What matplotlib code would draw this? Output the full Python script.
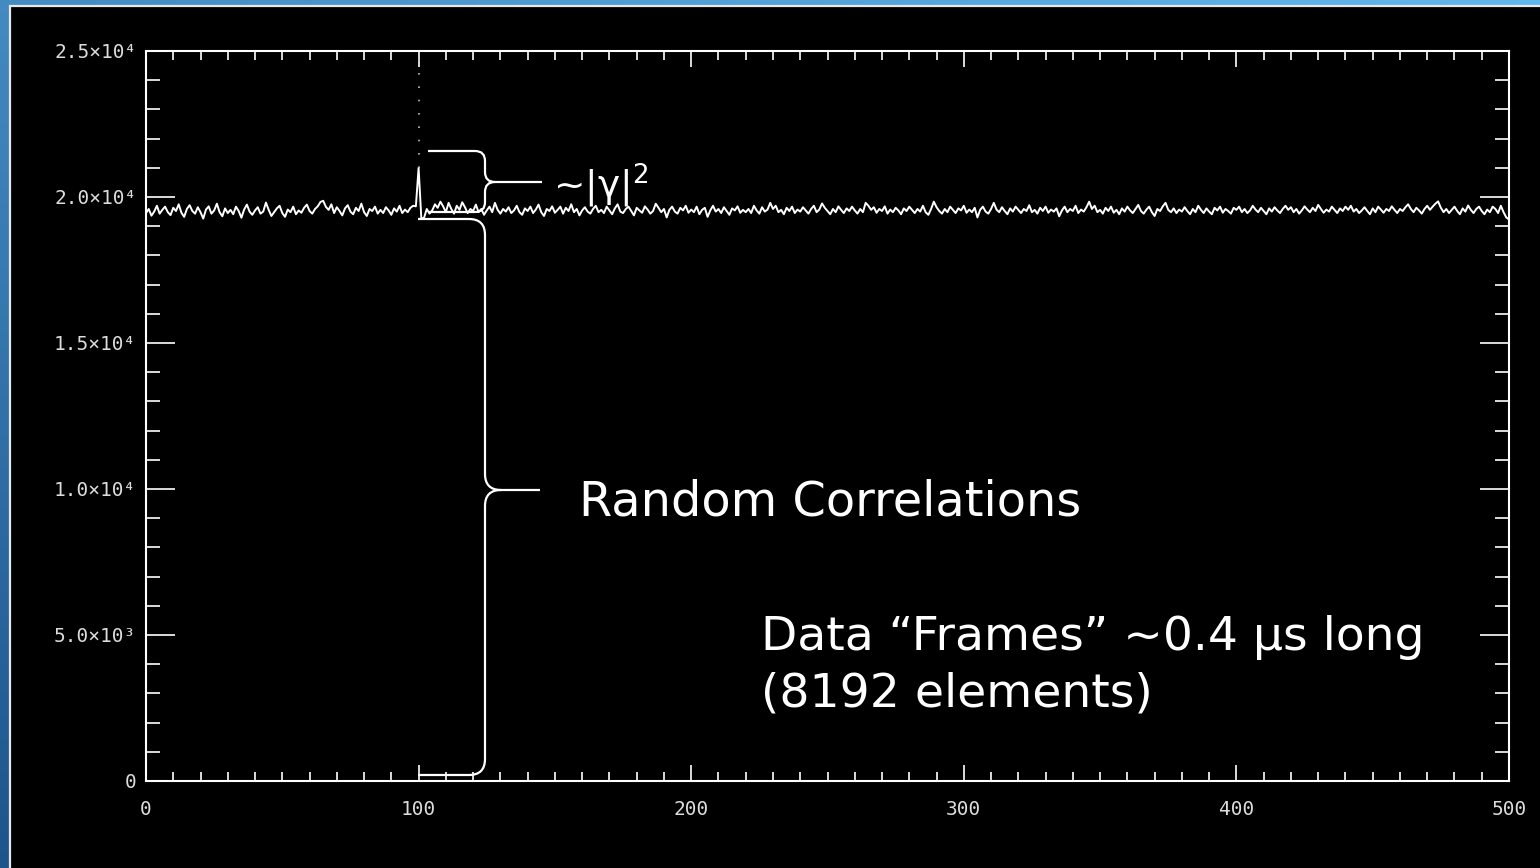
import numpy as np
import matplotlib
matplotlib.use("Agg")
import matplotlib.pyplot as plt
from matplotlib.path import Path
from matplotlib.patches import PathPatch, Rectangle

# ---------------- data ----------------
corr = [
    19450, 19590, 19360, 19500, 19700, 19430, 19560, 19670, 19480, 19380, 19630, 19520, 19750, 19460, 19320, 19590, 19720, 19520, 19430, 19650,
    19480, 19260, 19570, 19680, 19430, 19540, 19770, 19480, 19340, 19610, 19450, 19560, 19410, 19670, 19520, 19290, 19570, 19740, 19500, 19390,
    19540, 19650, 19430, 19500, 19810, 19560, 19350, 19480, 19610, 19700, 19450, 19320, 19570, 19480, 19670, 19410, 19540, 19460, 19630, 19740,
    19520, 19430, 19590, 19680, 19830, 19870, 19660, 19560, 19750, 19450, 19650, 19520, 19370, 19610, 19720, 19500, 19410, 19630, 19520, 19770,
    19480, 19350, 19590, 19520, 19670, 19430, 19560, 19450, 19650, 19540, 19390, 19610, 19500, 19700, 19450, 19570, 19480, 19630, 19700, 19680,
    21000,
    19260, 19290, 19590, 19430, 19540, 19750, 19630, 19840, 19680, 19480, 19800, 19590, 19430, 19700, 19560, 19820, 19650, 19450, 19590, 19520,
    19740, 19480, 19590, 19390, 19540, 19670, 19480, 19800, 19560, 19430, 19590, 19500, 19650, 19450, 19540, 19700, 19480, 19390, 19610, 19520,
    19670, 19450, 19570, 19740, 19480, 19350, 19590, 19520, 19680, 19460, 19560, 19670, 19430, 19630, 19520, 19750, 19480, 19590, 19370, 19540,
    19650, 19500, 19430, 19590, 19700, 19480, 19560, 19450, 19670, 19540, 19410, 19610, 19750, 19500, 19450, 19590, 19670, 19520, 19370, 19630,
    19540, 19460, 19680, 19570, 19430, 19520, 19770, 19630, 19480, 19590, 19300, 19560, 19670, 19500, 19430, 19630, 19540, 19700, 19460, 19570,
    19480, 19670, 19410, 19560, 19630, 19320, 19540, 19700, 19500, 19590, 19450, 19650, 19520, 19390, 19610, 19540, 19680, 19460, 19560, 19480,
    19590, 19450, 19700, 19540, 19430, 19650, 19500, 19570, 19800, 19590, 19700, 19480, 19560, 19410, 19630, 19520, 19670, 19450, 19570, 19500,
    19650, 19540, 19430, 19590, 19700, 19480, 19570, 19780, 19630, 19520, 19410, 19590, 19480, 19680, 19560, 19450, 19610, 19520, 19670, 19540,
    19430, 19590, 19480, 19800, 19700, 19560, 19650, 19460, 19590, 19520, 19680, 19430, 19570, 19480, 19630, 19540, 19410, 19610, 19520, 19670,
    19560, 19450, 19590, 19500, 19700, 19480, 19390, 19590, 19840, 19650, 19520, 19430, 19590, 19480, 19670, 19560, 19450, 19610, 19540, 19700,
    19460, 19570, 19480, 19630, 19300, 19560, 19670, 19500, 19430, 19590, 19800, 19570, 19480, 19650, 19520, 19410, 19610, 19500, 19670, 19560,
    19450, 19590, 19520, 19720, 19480, 19560, 19430, 19630, 19520, 19670, 19460, 19570, 19500, 19610, 19340, 19540, 19670, 19480, 19590, 19520,
    19700, 19450, 19570, 19500, 19650, 19840, 19590, 19700, 19480, 19560, 19430, 19630, 19520, 19670, 19460, 19560, 19410, 19610, 19500, 19670,
    19540, 19450, 19590, 19730, 19520, 19430, 19570, 19670, 19480, 19350, 19590, 19520, 19680, 19800, 19560, 19480, 19610, 19450, 19570, 19500,
    19650, 19520, 19410, 19590, 19480, 19700, 19560, 19450, 19610, 19500, 19410, 19630, 19540, 19670, 19460, 19590, 19520, 19430, 19630, 19560,
    19670, 19480, 19590, 19450, 19540, 19700, 19570, 19480, 19630, 19520, 19410, 19610, 19500, 19650, 19540, 19450, 19590, 19700, 19560, 19650,
    19480, 19590, 19430, 19540, 19680, 19570, 19480, 19630, 19520, 19730, 19590, 19460, 19570, 19500, 19670, 19560, 19450, 19610, 19520, 19670,
    19560, 19700, 19500, 19590, 19450, 19540, 19650, 19520, 19410, 19610, 19480, 19670, 19570, 19460, 19590, 19520, 19680, 19560, 19450, 19590,
    19520, 19650, 19750, 19590, 19480, 19630, 19540, 19430, 19590, 19700, 19560, 19670, 19770, 19850, 19630, 19480, 19590, 19450, 19560, 19670,
    19520, 19410, 19610, 19500, 19710, 19560, 19450, 19590, 19670, 19520, 19410, 19570, 19480, 19670, 19590, 19450, 19700, 19480, 19300, 19230,
]
lags = np.arange(len(corr))
spike_lag = 100
spike_top = 25000

yticks = [0, 5000, 10000, 15000, 20000, 25000]
ytick_labels = ["0", "5.0×10³", "1.0×10⁴", "1.5×10⁴", "2.0×10⁴", "2.5×10⁴"]
xticks = [0, 100, 200, 300, 400, 500]
xtick_labels = ["0", "100", "200", "300", "400", "500"]

W, H = 1540, 868
fig = plt.figure(figsize=(W / 100, H / 100), dpi=100)

# ---------------- slide background ----------------
bg = fig.add_axes([0, 0, 1, 1], zorder=-10)
bg.set_axis_off()
gx = np.linspace(0, 1, 200)
gy = np.linspace(0, 1, 120)
GX, GY = np.meshgrid(gx, gy)
t = np.clip(0.55 * GY + 0.45 * (1 - GX), 0, 1)
light = np.array([0.38, 0.72, 0.93])
dark = np.array([0.12, 0.33, 0.55])
img = light[None, None, :] * (1 - t[..., None]) + dark[None, None, :] * t[..., None]
bg.imshow(img, extent=[0, W, H, 0], aspect="auto")
bg.set_xlim(0, W)
bg.set_ylim(H, 0)
bg.add_patch(Rectangle((10, 6), W, H, facecolor="black", edgecolor="#e8e8e8", linewidth=1.6))

# ---------------- main axes ----------------
ax = fig.add_axes([146 / W, 1 - 781 / H, (1509 - 146) / W, (781 - 51) / H], zorder=1)
ax.set_facecolor("black")
ax.plot(lags, corr, color="white", linewidth=1.4)
ax.plot([lags[spike_lag], lags[spike_lag]], [corr[spike_lag], spike_top],
        color="#bfbfbf", linewidth=1.2, linestyle=(0, (1, 7)))
ax.set_xlim(0, 500)
ax.set_ylim(0, 25000)

for s in ax.spines.values():
    s.set_color("white")
    s.set_linewidth(1.5)

ax.set_xticks(xticks)
ax.set_xticklabels(xtick_labels)
ax.set_yticks(yticks)
ax.set_yticklabels(ytick_labels)
ax.set_xticks(np.arange(0, 501, 10), minor=True)
ax.set_yticks(np.arange(0, 25001, 1000), minor=True)

ax.tick_params(axis="x", which="major", direction="in", length=11.5, width=1.2,
               color="white", top=True, bottom=True, labelcolor="#dcdcdc", pad=14)
ax.tick_params(axis="x", which="minor", direction="in", length=6.5, width=1.2,
               color="white", top=True, bottom=True)
ax.tick_params(axis="y", which="major", direction="in", length=21, width=1.2,
               color="white", left=True, right=True, labelcolor="#dcdcdc", pad=7)
ax.tick_params(axis="y", which="minor", direction="in", length=10, width=1.2,
               color="white", left=True, right=True)
for lab in ax.get_xticklabels() + ax.get_yticklabels():
    lab.set_fontfamily("DejaVu Sans Mono")
    lab.set_fontsize(14)

# ---------------- annotation overlay (pixel coords) ----------------
ov = fig.add_axes([0, 0, 1, 1], zorder=2)
ov.set_axis_off()
ov.set_xlim(0, W)
ov.set_ylim(H, 0)
ov.patch.set_alpha(0)


def brace(x0, xb, xt, ytop, ytip, ybot, r=12):
    verts = [
        (x0, ytop), (xb - r, ytop),
        (xb, ytop), (xb, ytop + r),
        (xb, ytip - r),
        (xb, ytip), (xb + r, ytip),
        (xt, ytip),
        (xb + r, ytip),
        (xb, ytip), (xb, ytip + r),
        (xb, ybot - r),
        (xb, ybot), (xb - r, ybot),
        (x0, ybot),
    ]
    codes = [Path.MOVETO, Path.LINETO,
             Path.CURVE3, Path.CURVE3,
             Path.LINETO,
             Path.CURVE3, Path.CURVE3,
             Path.LINETO,
             Path.MOVETO,
             Path.CURVE3, Path.CURVE3,
             Path.LINETO,
             Path.CURVE3, Path.CURVE3,
             Path.LINETO]
    ov.add_patch(PathPatch(Path(verts, codes), facecolor="none", edgecolor="white", linewidth=1.6))


brace(428, 485, 542, 151, 182, 212, r=10)
brace(418, 485, 540, 219, 490, 775, r=16)

plt.rcParams["mathtext.fontset"] = "dejavusans"
ov.text(553, 186, "~|γ|$^2$", color="white", fontsize=27, va="center", ha="left")
ov.text(579, 502, "Random Correlations", color="white", fontsize=34.5, va="center", ha="left")
ov.text(761, 637, "Data \u201cFrames\u201d ~0.4 \u03bcs long", color="white", fontsize=34, va="center", ha="left")
ov.text(761, 694, "(8192 elements)", color="white", fontsize=34, va="center", ha="left")

fig.savefig("out.png", dpi=100, facecolor="black")
